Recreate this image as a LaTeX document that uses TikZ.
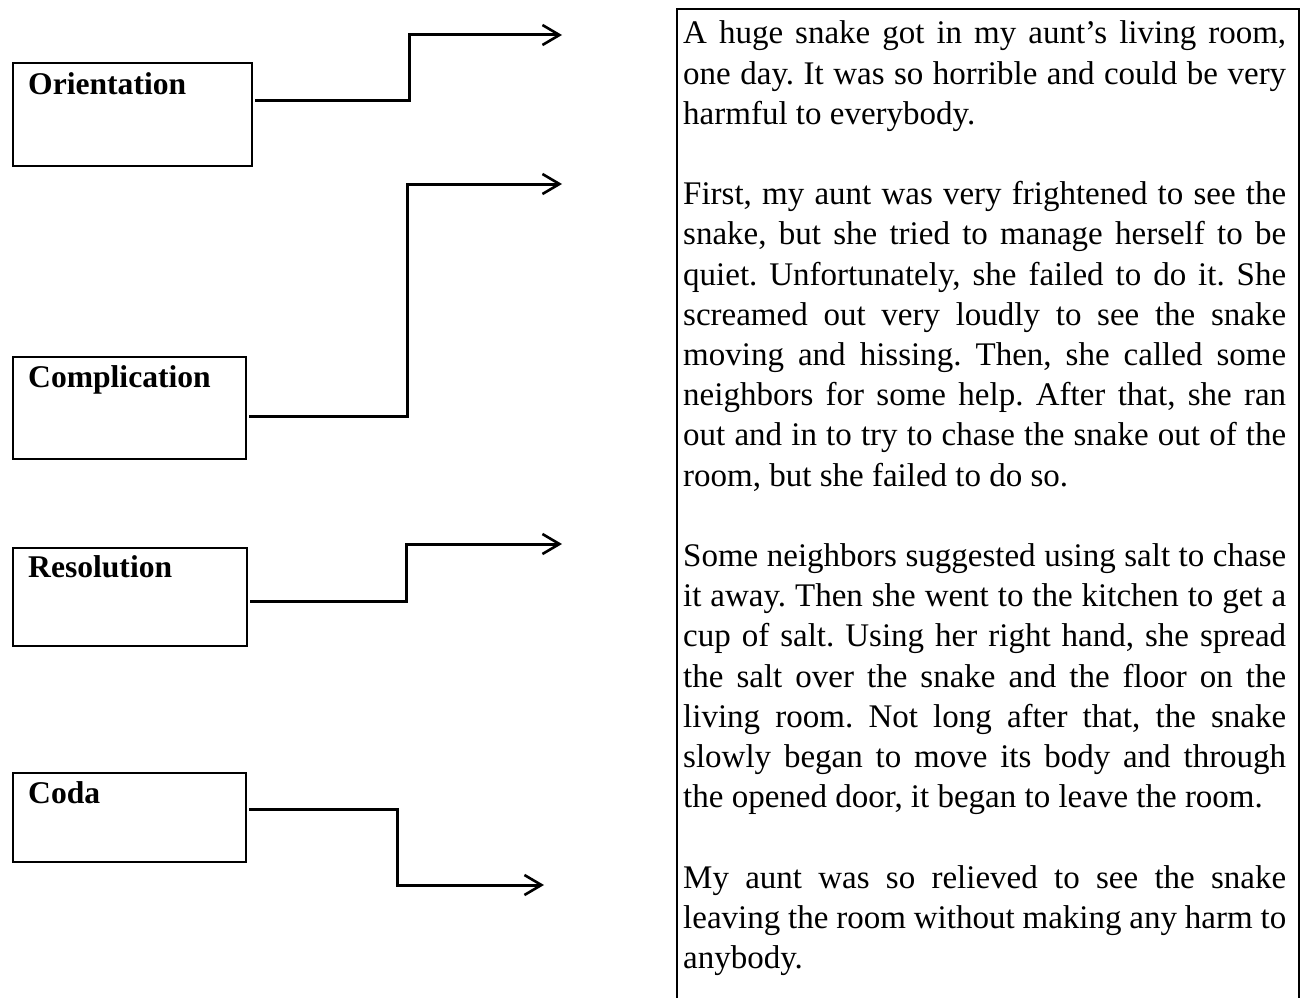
\documentclass[tikz,border=0pt]{standalone}
\usepackage{fontspec}
\setmainfont{Liberation Serif}
\usetikzlibrary{arrows.meta}
\begin{document}
\begin{tikzpicture}[x=1pt,y=-1pt,
  lbox/.style={draw,line width=2.8pt,inner sep=0pt,outer sep=0pt,anchor=north west},
  head/.style={font=\fontsize{31.6}{36}\selectfont\bfseries,inner sep=0pt,anchor=base west},
  conn/.style={line width=3pt,shorten <=3pt,-{Straight Barb[length=17pt,width=20pt,line width=2.6pt]}},
  frame/.style={line width=2.8pt}]
\useasboundingbox (0,0) rectangle (1301,998);

% left boxes
\node[lbox,minimum width=239pt,minimum height=103pt] (ob) at (13,63) {};
\node[lbox,minimum width=233pt,minimum height=102pt] (cb) at (13,357) {};
\node[lbox,minimum width=234pt,minimum height=98pt] (rb) at (13,548) {};
\node[lbox,minimum width=233pt,minimum height=89pt] (db) at (13,773) {};

\node[head] (ot) at (28,94) {Orientation};
\node[head] (ct) at (28,387) {Complication};
\node[head] (rt) at (28,577) {Resolution};
\node[head] (dt) at (28,803) {Coda};

% connectors
\coordinate (k1) at (409,100);
\coordinate (a1) at (562,35);
\coordinate (k2) at (407,416);
\coordinate (a2) at (562,184);
\coordinate (k3) at (406,601);
\coordinate (a3) at (562,544);
\coordinate (k4) at (397,809);
\coordinate (a4) at (544,885);
\draw[conn] (ob.east |- k1) -- (k1) |- (a1);
\draw[conn] (cb.east |- k2) -- (k2) |- (a2);
\draw[conn] (rb.east |- k3) -- (k3) |- (a3);
\draw[conn] (db.east |- k4) -- (k4) |- (a4);

% story frame (open at the bottom)
\draw[frame] (677,1010) -- (677,9) -- (1299,9) -- (1299,1010);

\node[anchor=base west,inner sep=0pt,text width=603pt,align=justify,
      font=\fontsize{33}{40.2}\selectfont] (story) at (683,44) {%
\setlength{\parskip}{40.2pt}\setlength{\parindent}{0pt}\frenchspacing
\hyphenpenalty=10000 \tolerance=10000 \emergencystretch=20pt
A huge snake got in my aunt’s living room,\linebreak
one day. It was so horrible and could be very\linebreak
harmful to everybody.\par
First, my aunt was very frightened to see the\linebreak
snake, but she tried to manage herself to be\linebreak
quiet. Unfortunately, she failed to do it. She\linebreak
screamed out very loudly to see the snake\linebreak
moving and hissing. Then, she called some\linebreak
neighbors for some help. After that, she ran\linebreak
out and in to try to chase the snake out of the\linebreak
room, but she failed to do so.\par
Some neighbors suggested using salt to chase\linebreak
it away. Then she went to the kitchen to get a\linebreak
cup of salt. Using her right hand, she spread\linebreak
the salt over the snake and the floor on the\linebreak
living room. Not long after that, the snake\linebreak
slowly began to move its body and through\linebreak
the opened door, it began to leave the room.\par
My aunt was so relieved to see the snake\linebreak
leaving the room without making any harm to\linebreak
anybody.\par};
\end{tikzpicture}
\end{document}
